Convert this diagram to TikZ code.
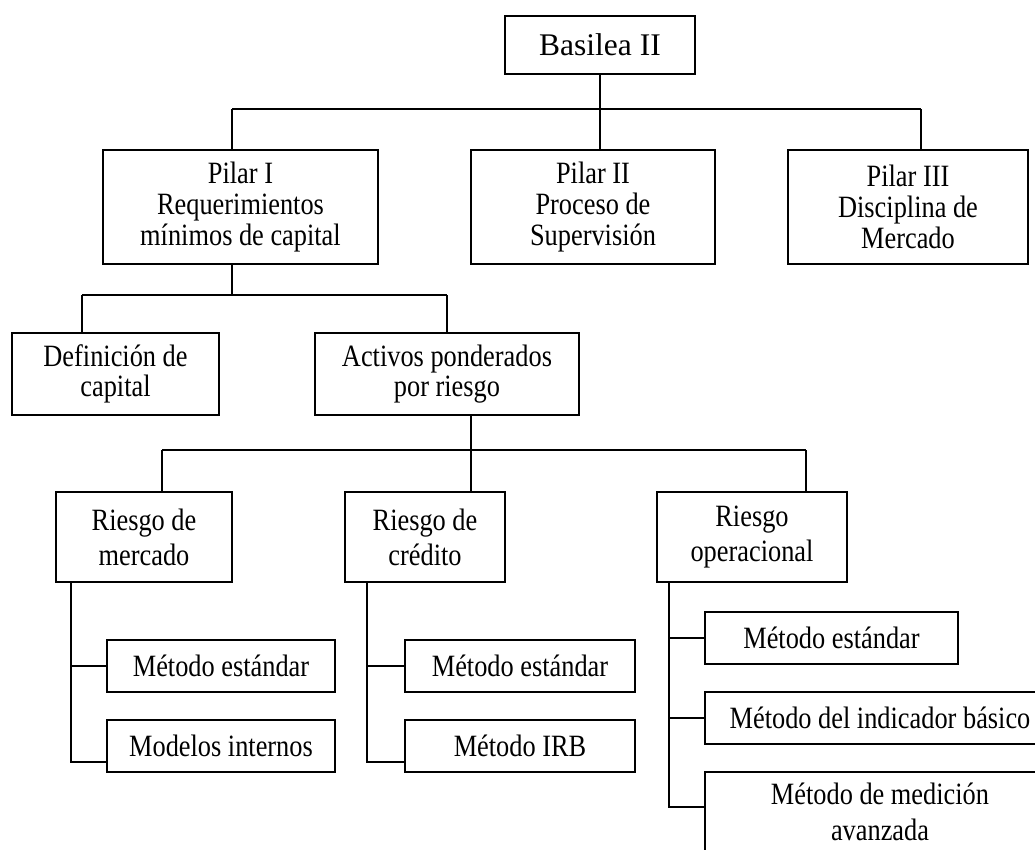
\documentclass[tikz,border=0pt]{standalone}
\usepackage{fontspec}
\setmainfont{Liberation Serif}
\newfontfamily\narrowserif[FakeStretch=0.85]{Liberation Serif}
\newcommand{\boxfont}[1]{\narrowserif\fontsize{31}{#1}\selectfont}
\begin{document}
\begin{tikzpicture}[x=1pt,y=-1pt,
  box/.style={draw,line width=1.6pt,inner sep=0pt,align=center,
    font=\boxfont{31}},
  conn/.style={line width=1.3pt}]
\useasboundingbox (0,0) rectangle (1035,850);
\clip (0,0) rectangle (1035,850);

% top level
\node[box,minimum width=190pt,minimum height=58pt,font=\fontsize{31.5}{36}\selectfont] (basel) at (600,45) {Basilea II};

% the three pillars
\node[box,minimum width=275pt,minimum height=114pt] (p1) at (240.5,207) {Pilar I\\Requerimientos\\mínimos de capital};
\node[box,minimum width=244pt,minimum height=114pt] (p2) at (593,207) {Pilar II\\Proceso de\\Supervisión};
\node[box,minimum width=240pt,minimum height=114pt] (p3) at (908,207) {Pilar III\\Disciplina de\\Mercado};

% pillar I breakdown
\node[box,minimum width=207pt,minimum height=82pt,font=\boxfont{30}] (def) at (115.5,374) {Definición de\\capital};
\node[box,minimum width=264pt,minimum height=82pt,font=\boxfont{30}] (act) at (447,374) {Activos ponderados\\por riesgo};

% risk types
\node[box,minimum width=176pt,minimum height=90pt,font=\boxfont{35}] (rm) at (144,537) {Riesgo de\\mercado};
\node[box,minimum width=160pt,minimum height=90pt,font=\boxfont{35}] (rc) at (425,537) {Riesgo de\\crédito};
\node[box,minimum width=190pt,minimum height=90pt,font=\boxfont{35}] (ro) at (752,537) {Riesgo\\operacional};

% methods
\node[box,minimum width=228pt,minimum height=52pt] (m1) at (221,666) {Método estándar};
\node[box,minimum width=228pt,minimum height=52pt] (m2) at (221,746) {Modelos internos};
\node[box,minimum width=230pt,minimum height=52pt] (c1) at (520,666) {Método estándar};
\node[box,minimum width=230pt,minimum height=52pt] (c2) at (520,746) {Método IRB};
\node[box,minimum width=253pt,minimum height=52pt] (o1) at (831.5,638) {Método estándar};
\node[box,minimum width=350pt,minimum height=52pt] (o2) at (880,718) {Método del indicador básico};
\node[box,minimum width=350pt,minimum height=80pt,font=\boxfont{36}] (o3) at (880,812) {Método de medición\\avanzada};

% junction points
\coordinate (j1) at (600,109);
\coordinate (b1l) at (232,109);
\coordinate (b1r) at (921,109);
\coordinate (j2) at (232,295);
\coordinate (b2l) at (82,295);
\coordinate (b2r) at (447,295);
\coordinate (j3) at (471,450);
\coordinate (b3l) at (162,450);
\coordinate (b3r) at (806,450);
\coordinate (rmb) at (71,762);
\coordinate (rcb) at (367,762);
\coordinate (rob) at (669,807);

% Basilea II -> pillars
\draw[conn] (basel.south) -- (j1);
\draw[conn] (b1l) -- (b1r);
\draw[conn] (b1l) -- (b1l |- p1.north);
\draw[conn] (j1) -- (j1 |- p2.north);
\draw[conn] (b1r) -- (b1r |- p3.north);

% Pilar I -> definition / weighted assets
\draw[conn] (j2 |- p1.south) -- (j2);
\draw[conn] (b2l) -- (b2r);
\draw[conn] (b2l) -- (b2l |- def.north);
\draw[conn] (b2r) -- (b2r |- act.north);

% weighted assets -> risk types
\draw[conn] (j3 |- act.south) -- (j3);
\draw[conn] (b3l) -- (b3r);
\draw[conn] (b3l) -- (b3l |- rm.north);
\draw[conn] (j3) -- (j3 |- rc.north);
\draw[conn] (b3r) -- (b3r |- ro.north);

% market risk methods
\draw[conn] (rmb |- rm.south) -- (rmb) -- (rmb -| m2.west);
\draw[conn] (rmb |- m1.west) -- (m1.west);

% credit risk methods
\draw[conn] (rcb |- rc.south) -- (rcb) -- (rcb -| c2.west);
\draw[conn] (rcb |- c1.west) -- (c1.west);

% operational risk methods
\draw[conn] (rob |- ro.south) -- (rob) -- (rob -| o3.west);
\draw[conn] (rob |- o1.west) -- (o1.west);
\draw[conn] (rob |- o2.west) -- (o2.west);
\end{tikzpicture}
\end{document}
